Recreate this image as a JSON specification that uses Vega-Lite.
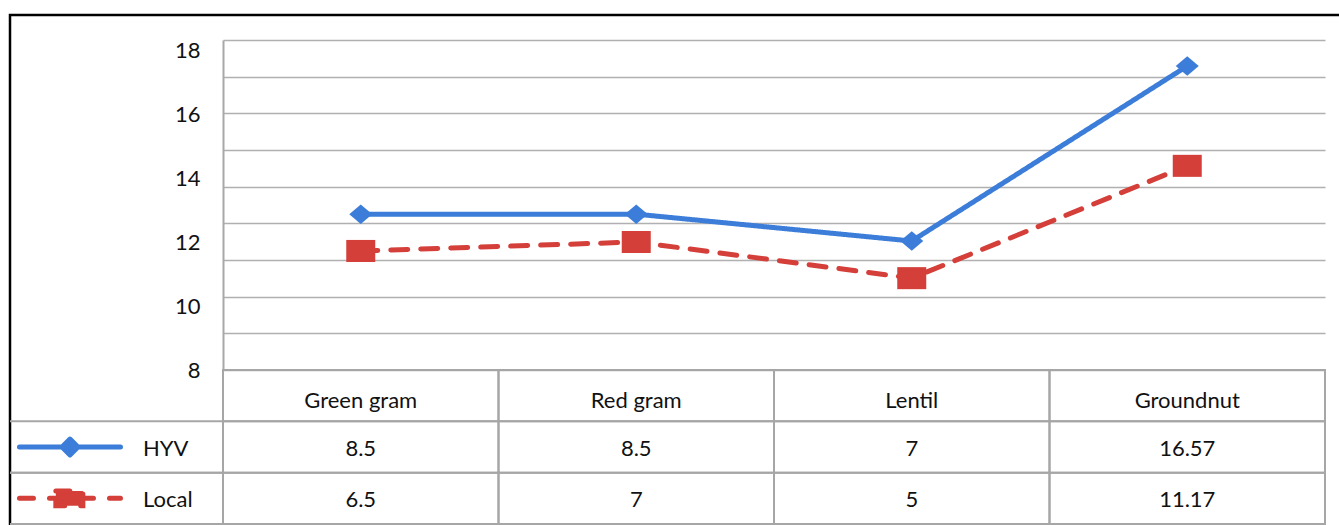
{
  "$schema": "https://vega.github.io/schema/vega-lite/v6.json",
  "width": 1329,
  "height": 510,
  "autosize": {"type": "none"},
  "padding": {"left": 10, "top": 15, "right": 0, "bottom": 0},
  "background": "white",
  "config": {
    "view": {"stroke": "#000000", "strokeWidth": 2.5, "strokeDash": [1329, 1839, 510]},
    "font": "Lato",
    "text": {"font": "Lato", "fontSize": 22, "color": "#111111"}
  },
  "data": {
    "values": [
      {"crop": "Green gram", "variety": "HYV", "value": 12.87, "label": "8.5"},
      {"crop": "Red gram", "variety": "HYV", "value": 12.87, "label": "8.5"},
      {"crop": "Lentil", "variety": "HYV", "value": 12.03, "label": "7"},
      {"crop": "Groundnut", "variety": "HYV", "value": 17.5, "label": "16.57"},
      {"crop": "Green gram", "variety": "Local", "value": 11.72, "label": "6.5"},
      {"crop": "Red gram", "variety": "Local", "value": 12.0, "label": "7"},
      {"crop": "Lentil", "variety": "Local", "value": 10.87, "label": "5"},
      {"crop": "Groundnut", "variety": "Local", "value": 14.38, "label": "11.17"}
    ]
  },
  "layer": [
    {
      "transform": [{"filter": "datum.variety === 'HYV'"}],
      "mark": {"type": "point", "size": 0, "opacity": 0},
      "encoding": {
        "x": {"field": "crop", "type": "nominal",
              "scale": {"type": "point", "domain": ["Green gram", "Red gram", "Lentil", "Groundnut"], "range": [213, 1315], "padding": 0.5}, "axis": null},
        "y": {"field": "value", "type": "quantitative",
              "scale": {"domain": [8, 18.3125], "range": [355, 25], "nice": false, "zero": false},
              "axis": {"orient": "left", "grid": true, "values": [8, 9.1458, 10.2917, 11.4375, 12.5833, 13.7292, 14.875, 16.0208, 17.1667, 18.3125],
                       "labels": false, "ticks": false, "domain": false, "gridColor": "#b0b0b0", "gridWidth": 1.6, "title": null}}
      }
    },
    {
      "mark": {"type": "line", "strokeWidth": 5, "strokeCap": "round", "strokeJoin": "round"},
      "encoding": {
        "x": {"field": "crop", "type": "nominal", "sort": ["Green gram", "Red gram", "Lentil", "Groundnut"],
              "scale": {"type": "point", "domain": ["Green gram", "Red gram", "Lentil", "Groundnut"], "range": [213, 1315], "padding": 0.5}, "axis": null},
        "y": {"field": "value", "type": "quantitative",
              "scale": {"domain": [8, 18.3125], "range": [355, 25], "nice": false, "zero": false},
              "axis": {"orient": "left", "offset": -213, "values": [8, 10, 12, 14, 16, 18], "grid": false, "ticks": false, "tickSize": 0,
                       "labelPadding": 23, "labelFont": "Lato", "labelFontSize": 22, "labelColor": "#111111",
                       "domain": true, "domainColor": "#a8a8a8", "domainWidth": 2, "title": null}},
        "color": {"field": "variety", "type": "nominal", "scale": {"domain": ["HYV", "Local"], "range": ["#3b7dd8", "#d43f3a"]}, "legend": null},
        "strokeDash": {"field": "variety", "type": "nominal", "scale": {"domain": ["HYV", "Local"], "range": [[1, 0], [17, 13]]}, "legend": null}
      }
    },
    {
      "transform": [{"filter": "datum.variety === 'HYV'"}],
      "mark": {"type": "point", "shape": "M0,-0.85L1,0L0,0.85L-1,0Z", "size": 529, "filled": true, "color": "#3b7dd8", "opacity": 1},
      "encoding": {
        "x": {"field": "crop", "type": "nominal",
              "scale": {"type": "point", "domain": ["Green gram", "Red gram", "Lentil", "Groundnut"], "range": [213, 1315], "padding": 0.5}, "axis": null},
        "y": {"field": "value", "type": "quantitative",
              "scale": {"domain": [8, 18.3125], "range": [355, 25], "nice": false, "zero": false}, "axis": null}
      }
    },
    {
      "transform": [{"filter": "datum.variety === 'Local'"}],
      "mark": {"type": "point", "shape": "M-1,-0.76L1,-0.76L1,0.76L-1,0.76Z", "size": 841, "filled": true, "color": "#d43f3a", "opacity": 1},
      "encoding": {
        "x": {"field": "crop", "type": "nominal",
              "scale": {"type": "point", "domain": ["Green gram", "Red gram", "Lentil", "Groundnut"], "range": [213, 1315], "padding": 0.5}, "axis": null},
        "y": {"field": "value", "type": "quantitative",
              "scale": {"domain": [8, 18.3125], "range": [355, 25], "nice": false, "zero": false}, "axis": null}
      }
    },
    {
      "mark": {"type": "rect", "fill": "transparent", "stroke": "#a6a6a6", "strokeWidth": 2, "clip": true},
      "encoding": {
        "x": {"field": "crop", "type": "nominal", "scale": {"type": "band", "domain": ["Series", "Green gram", "Red gram", "Lentil", "Groundnut"], "range": [-62.5, 1315], "paddingInner": 0, "paddingOuter": 0}, "axis": null},
        "y": {"field": "variety", "type": "nominal", "scale": {"type": "band", "domain": ["Crop", "HYV", "Local"], "range": [355, 509], "paddingInner": 0, "paddingOuter": 0}, "axis": null}
      }
    },
    {
      "transform": [{"filter": "datum.variety === 'HYV'"}],
      "mark": {"type": "rect", "fill": "transparent", "stroke": "#a6a6a6", "strokeWidth": 2, "clip": true},
      "encoding": {
        "x": {"field": "crop", "type": "nominal", "scale": {"type": "band", "domain": ["Series", "Green gram", "Red gram", "Lentil", "Groundnut"], "range": [-62.5, 1315], "paddingInner": 0, "paddingOuter": 0}, "axis": null},
        "y": {"datum": "Crop", "type": "nominal", "scale": {"type": "band", "domain": ["Crop", "HYV", "Local"], "range": [355, 509], "paddingInner": 0, "paddingOuter": 0}, "axis": null}
      }
    },
    {
      "transform": [{"filter": "datum.crop === 'Green gram'"}],
      "mark": {"type": "rect", "fill": "transparent", "stroke": "#a6a6a6", "strokeWidth": 2, "clip": true},
      "encoding": {
        "x": {"datum": "Series", "type": "nominal", "scale": {"type": "band", "domain": ["Series", "Green gram", "Red gram", "Lentil", "Groundnut"], "range": [-62.5, 1315], "paddingInner": 0, "paddingOuter": 0}, "axis": null},
        "y": {"field": "variety", "type": "nominal", "scale": {"type": "band", "domain": ["Crop", "HYV", "Local"], "range": [355, 509], "paddingInner": 0, "paddingOuter": 0}, "axis": null}
      }
    },
    {
      "mark": {"type": "text", "font": "Lato", "fontSize": 22, "color": "#111111", "baseline": "middle", "align": "center", "dy": 2},
      "encoding": {
        "x": {"field": "crop", "type": "nominal", "scale": {"type": "band", "domain": ["Series", "Green gram", "Red gram", "Lentil", "Groundnut"], "range": [-62.5, 1315], "paddingInner": 0, "paddingOuter": 0}, "axis": null},
        "y": {"field": "variety", "type": "nominal", "scale": {"type": "band", "domain": ["Crop", "HYV", "Local"], "range": [355, 509], "paddingInner": 0, "paddingOuter": 0}, "axis": null},
        "text": {"field": "label", "type": "nominal"}
      }
    },
    {
      "transform": [{"filter": "datum.variety === 'HYV'"}],
      "mark": {"type": "text", "font": "Lato", "fontSize": 22, "color": "#111111", "baseline": "middle", "align": "center", "dy": 5},
      "encoding": {
        "x": {"field": "crop", "type": "nominal", "scale": {"type": "band", "domain": ["Series", "Green gram", "Red gram", "Lentil", "Groundnut"], "range": [-62.5, 1315], "paddingInner": 0, "paddingOuter": 0}, "axis": null},
        "y": {"datum": "Crop", "type": "nominal", "scale": {"type": "band", "domain": ["Crop", "HYV", "Local"], "range": [355, 509], "paddingInner": 0, "paddingOuter": 0}, "axis": null},
        "text": {"field": "crop", "type": "nominal"}
      }
    },
    {
      "transform": [{"filter": "datum.crop === 'Green gram'"}],
      "mark": {"type": "text", "font": "Lato", "fontSize": 22, "color": "#111111", "baseline": "middle", "align": "left", "dx": 57.75, "dy": 2},
      "encoding": {
        "x": {"datum": "Series", "type": "nominal", "scale": {"type": "band", "domain": ["Series", "Green gram", "Red gram", "Lentil", "Groundnut"], "range": [-62.5, 1315], "paddingInner": 0, "paddingOuter": 0}, "axis": null},
        "y": {"field": "variety", "type": "nominal", "scale": {"type": "band", "domain": ["Crop", "HYV", "Local"], "range": [355, 509], "paddingInner": 0, "paddingOuter": 0}, "axis": null},
        "text": {"field": "variety", "type": "nominal"}
      }
    },
    {
      "transform": [{"filter": "datum.crop === 'Green gram' && datum.variety === 'HYV'"}],
      "mark": {"type": "point", "shape": "M-1.241,0L0.665,0M-0.288,-0.15L-0.138,0L-0.288,0.15L-0.438,0Z", "size": 11236,
               "filled": true, "fill": "#3b7dd8", "stroke": "#3b7dd8", "strokeWidth": 5, "strokeCap": "round", "strokeJoin": "round", "opacity": 1},
      "encoding": {
        "x": {"datum": "Series", "type": "nominal", "scale": {"type": "band", "domain": ["Series", "Green gram", "Red gram", "Lentil", "Groundnut"], "range": [-62.5, 1315], "paddingInner": 0, "paddingOuter": 0}, "axis": null},
        "y": {"field": "variety", "type": "nominal", "scale": {"type": "band", "domain": ["Crop", "HYV", "Local"], "range": [355, 509], "paddingInner": 0, "paddingOuter": 0}, "axis": null}
      }
    },
    {
      "transform": [{"filter": "datum.crop === 'Green gram' && datum.variety === 'Local'"}],
      "mark": {"type": "point", "shape": "M-1.241,0L0.665,0M-0.555,-0.14L-0.045,-0.14L-0.045,0.14L-0.555,0.14Z", "size": 11236,
               "filled": true, "fill": "#d43f3a", "stroke": "#d43f3a", "strokeWidth": 5, "strokeCap": "round", "strokeDash": [14, 16], "opacity": 1},
      "encoding": {
        "x": {"datum": "Series", "type": "nominal", "scale": {"type": "band", "domain": ["Series", "Green gram", "Red gram", "Lentil", "Groundnut"], "range": [-62.5, 1315], "paddingInner": 0, "paddingOuter": 0}, "axis": null},
        "y": {"field": "variety", "type": "nominal", "scale": {"type": "band", "domain": ["Crop", "HYV", "Local"], "range": [355, 509], "paddingInner": 0, "paddingOuter": 0}, "axis": null}
      }
    }
  ],
  "resolve": {"scale": {"x": "independent", "y": "independent"}, "axis": {"x": "independent", "y": "independent"}}
}
